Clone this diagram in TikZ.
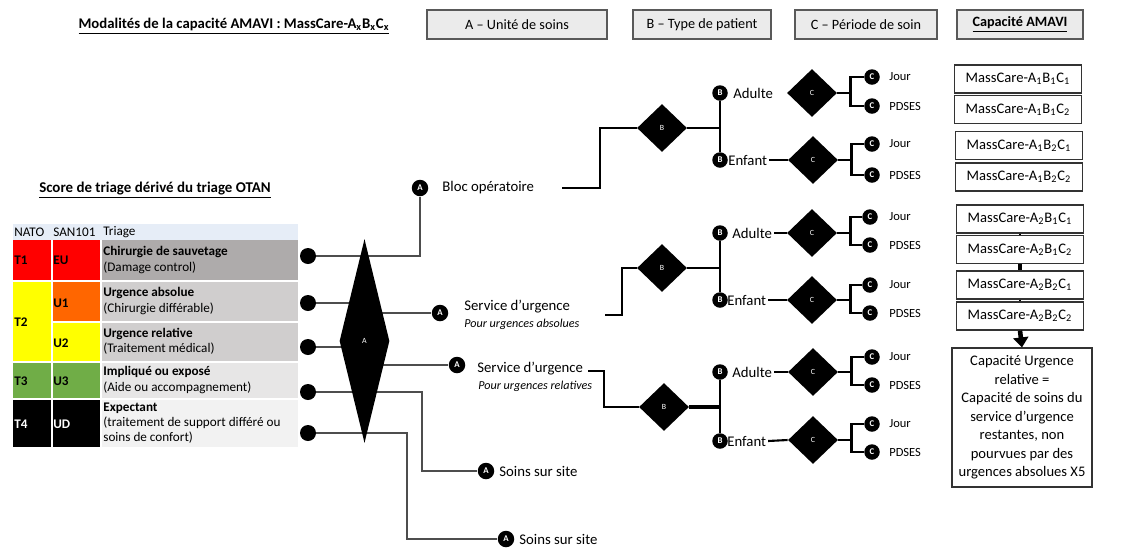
\documentclass[tikz,border=0pt]{standalone}
\usepackage{fontspec}
\setmainfont{Carlito}
\usetikzlibrary{shapes.geometric,arrows.meta,shadows}
\pgfdeclarelayer{paper}
\pgfdeclarelayer{wires}
\pgfsetlayers{paper,wires,main}
\definecolor{hdrfill}{HTML}{EBEBEB}
\definecolor{hdrline}{HTML}{595959}
\definecolor{wirec}{HTML}{4D4D4D}
\definecolor{tRed}{HTML}{FF0000}
\definecolor{tYellow}{HTML}{FFFF00}
\definecolor{tOrange}{HTML}{FF6600}
\definecolor{tGreen}{HTML}{70AD47}
\definecolor{gDark}{HTML}{AEABAB}
\definecolor{gMid}{HTML}{D0CECE}
\definecolor{gLight}{HTML}{E7E6E6}
\definecolor{gPale}{HTML}{F2F2F2}
\definecolor{colHead}{HTML}{E6EDF7}
\begin{document}
\begin{tikzpicture}[x=0.02cm,y=-0.02cm,
  hdr/.style={draw=hdrline, fill=hdrfill, line width=0.6pt, inner sep=0pt,
    minimum height=0.58cm, font=\fontsize{8.1}{9.6}\selectfont,
    drop shadow={shadow xshift=0.7pt, shadow yshift=-0.7pt, fill=black!55, opacity=1}},
  txt/.style={inner sep=0pt, anchor=west, font=\fontsize{8.4}{10}\selectfont},
  itx/.style={inner sep=0pt, anchor=west, font=\fontsize{6.9}{8}\selectfont\itshape},
  sml/.style={inner sep=0pt, anchor=west, font=\fontsize{7.1}{8.5}\selectfont},
  cell/.style={inner sep=0pt, anchor=west, align=left, font=\fontsize{7.5}{8.6}\selectfont},
  cellb/.style={cell, font=\fontsize{7.5}{8.6}\selectfont\bfseries},
  dot/.style={circle, fill=black, inner sep=0pt, minimum size=0.32cm},
  lett/.style={circle, fill=black, text=white, inner sep=0pt, minimum size=0.33cm,
    font=\fontsize{5}{5}\selectfont\bfseries},
  sletter/.style={lett, minimum size=0.31cm},
  bdia/.style={diamond, fill=black, text=white, inner sep=0pt, minimum width=1cm,
    minimum height=0.96cm, font=\fontsize{4.5}{5}\selectfont},
  mc/.style={draw=black!80, line width=0.7pt, inner sep=0pt, minimum width=2.54cm,
    minimum height=0.56cm, font=\fontsize{8.3}{10}\selectfont},
  wire/.style={draw=wirec, line width=0.8pt},
  tk/.style={draw=black, line width=1.5pt},
  tkk/.style={draw=black, line width=2.6pt},
  thn/.style={draw=black, line width=0.8pt},
]
\begin{pgfonlayer}{paper}
\fill[white] (0,0) rectangle (1127,549);
\end{pgfonlayer}
\useasboundingbox (0,0) rectangle (1127,549);

% ---------- headings ----------
\node[inner sep=0pt, font=\fontsize{8.4}{10}\selectfont\bfseries] (title) at (234,26)
  {$\underline{\hbox{Modalités de la capacité AMAVI : MassCare-A\textsubscript{x}B\textsubscript{x}C\textsubscript{x}}}$};
\node[hdr, minimum width=3.6cm]  (hA) at (517,24.5) {A -- Unité de soins};
\node[hdr, minimum width=2.76cm] (hB) at (702,24.5) {B -- Type de patient};
\node[hdr, minimum width=2.84cm] (hC) at (866,24.5) {C -- Période de soin};
\node[hdr, minimum width=2.52cm] (hD) at (1020,24.5) {\textbf{\underline{Capacité AMAVI}}};

% ---------- triage table ----------
\node[inner sep=0pt, font=\fontsize{8.5}{10}\selectfont\bfseries] (score) at (155,190)
  {$\underline{\hbox{Score de triage dérivé du triage OTAN}}$};
\fill[colHead] (13,224) rectangle (298,240);
\fill[tRed] (13,240) rectangle (101,281);
\fill[gDark] (101,240) rectangle (298,281);
\fill[tYellow] (13,281) rectangle (52,362);
\fill[tOrange] (52,281) rectangle (101,322);
\fill[tYellow] (52,322) rectangle (101,362);
\fill[gMid] (101,281) rectangle (298,362);
\fill[tGreen] (13,362) rectangle (101,399);
\fill[gLight] (101,362) rectangle (298,399);
\fill[black] (13,399) rectangle (101,447);
\fill[gPale] (101,399) rectangle (298,447);
\draw[white, line width=0.8pt] (52,240) -- (52,447) (101,240) -- (101,447)
  (13,281) -- (298,281) (52,322) -- (298,322) (13,362) -- (298,362) (13,399) -- (298,399);

\node[cell] (hNato) at (14,232) {NATO};
\node[cell] (hSan) at (53,232) {SAN101};
\node[cell] (hTri) at (103,232) {Triage};
\node[cellb] (t1) at (14,260) {T1};
\node[cellb] (eu) at (53,260) {EU};
\node[cell] (r1) at (103,260) {\textbf{Chirurgie de sauvetage}\\(Damage control)};
\node[cellb] (t2) at (14,322) {T2};
\node[cellb] (u1) at (53,303) {U1};
\node[cell] (r2) at (103,301) {\textbf{Urgence absolue}\\(Chirurgie différable)};
\node[cellb] (u2) at (53,343) {U2};
\node[cell] (r3) at (103,341) {\textbf{Urgence relative}\\(Traitement médical)};
\node[cellb] (t3) at (14,381) {T3};
\node[cellb] (u3) at (53,381) {U3};
\node[cell] (r4) at (103,380) {\textbf{Impliqué ou exposé}\\(Aide ou accompagnement)};
\node[cellb, text=white] (t4) at (14,424) {T4};
\node[cellb, text=white] (ud) at (53,424) {UD};
\node[cell] (r5) at (103,423) {\textbf{Expectant}\\(traitement de support différé ou\\soins de confort)};

% ---------- unit split ----------
\node[dot] (d1) at (308,256) {};
\node[dot] (d2) at (308,303) {};
\node[dot] (d3) at (308,347) {};
\node[dot] (d4) at (308,392) {};
\node[dot] (d5) at (308,433) {};
\node[diamond, fill=black, text=white, inner sep=0pt, minimum width=1cm,
  minimum height=4.08cm, font=\fontsize{4.5}{5}\selectfont] (bigA) at (364.5,341) {A};

\node[lett] (a1) at (420,188) {A};
\node[lett] (a2) at (440,313) {A};
\node[lett] (a3) at (457,365) {A};
\node[lett] (a4) at (486,471) {A};
\node[lett] (a5) at (506,539) {A};
\node[txt] (lBloc) at (442,188) {Bloc opératoire};
\node[txt] (lSu1) at (464,307) {Service d’urgence};
\node[itx] (lSu1i) at (464,324) {Pour urgences absolues};
\node[txt] (lSu2) at (477,369) {Service d’urgence};
\node[itx] (lSu2i) at (478,386) {Pour urgences relatives};
\node[txt] (lSs1) at (499,471) {Soins sur site};
\node[txt] (lSs2) at (519,539) {Soins sur site};

\begin{pgfonlayer}{wires}
\draw[wire] (d1) -| (a1);
\draw[wire] (d2) -- (d2 -| bigA);
\draw[wire] (bigA.center |- a2) -- (a2);
\draw[wire] (d3) -- (d3 -| bigA);
\draw[wire] (bigA.center |- a3) -- (a3);
\draw[wire] (d4) -- ++(114,0) |- (a4);
\draw[wire] (d5) -- ++(99,0) |- (a5);
\end{pgfonlayer}

% ---------- patient / period trees ----------
\coordinate (s1) at (562,188);
\coordinate (s2) at (605,315);
\coordinate (s3) at (588,371);
\node[bdia] (b1) at (662,128) {B};
\node[bdia] (b2) at (662,268) {B};
\node[bdia] (b3) at (664,407) {B};
\node[sletter] (bA1) at (720,93) {B};
\node[sletter] (bE1) at (720,160) {B};
\node[sletter] (bA2) at (720,233) {B};
\node[sletter] (bE2) at (720,300) {B};
\node[sletter] (bA3) at (720,372) {B};
\node[sletter] (bE3) at (720,441) {B};
\node[txt] (lA1) at (733,93) {Adulte};
\node[txt] (lE1) at (728,160) {Enfant};
\node[txt] (lA2) at (732,233) {Adulte};
\node[txt] (lE2) at (727,300) {Enfant};
\node[txt] (lA3) at (732,372) {Adulte};
\node[txt] (lE3) at (727,441) {Enfant};
\node[bdia] (cA1) at (812,93) {C};
\node[bdia] (cE1) at (813,160) {C};
\node[bdia] (cA2) at (812,233) {C};
\node[bdia] (cE2) at (812,300) {C};
\node[bdia] (cA3) at (813,372) {C};
\node[bdia] (cE3) at (813,440) {C};

\foreach \n/\x/\y/\t in {k1a/872/77/Jour, k1b/872/106/PDSES, k1c/872/144/Jour, k1d/872/175/PDSES,
  k2a/870/217/Jour, k2b/870/245/PDSES, k2c/870/285/Jour, k2d/870/313/PDSES,
  k3a/872/357/Jour, k3b/872/385/PDSES, k3c/872/424/Jour, k3d/872/452/PDSES}{
  \node[sletter] (\n) at (\x,\y) {C};
  \node[sml] (l\n) at (889,\y) {\t};
}

\begin{pgfonlayer}{wires}
\draw[thn] (s1) -- ++(38,0) |- (b1.west);
\draw[tk] (s2) -- ++(17,0) |- (b2.west);
\draw[tk] (s3) -- ++(16,0) |- (b3.west);
\draw[tk] (b1.east) -- (b1.east -| bA1);
\draw[tk] (b2.east) -- (b2.east -| bA2);
\draw[tkk] (b3.east) -- (b3.east -| bA3);
\draw[tk] (bA1) -- (bE1);
\draw[tk] (bA2) -- (bE2);
\draw[tk] (bA3) -- (bE3);
\draw[thn, line width=1.2pt] ([xshift=1pt]lE1.east) -- (cE1.west);
\draw[thn, line width=1.2pt] ([xshift=1pt]lA2.east) -- (cA2.west);
\draw[thn, line width=1.2pt] ([xshift=1pt]lE2.east) -- (cE2.west);
\draw[thn, line width=1.2pt] ([xshift=1pt]lA3.east) -- (cA3.west);
\draw[thn, line width=1.2pt] ([xshift=1pt]lE3.east) -- (cE3.west);
\foreach \c/\p/\q in {cA1/k1a/k1b, cE1/k1c/k1d, cA2/k2a/k2b, cE2/k2c/k2d, cA3/k3a/k3b, cE3/k3c/k3d}{
  \draw[tk] (\c.east) -- ++(13,0) coordinate (j\c);
  \draw[tk] (\p) -| (j\c) |- (\q);
}
\end{pgfonlayer}

% ---------- capacities ----------
\node[mc] (m1) at (1018,79) {MassCare-A\textsubscript{1}B\textsubscript{1}C\textsubscript{1}};
\node[mc] (m2) at (1018,109.5) {MassCare-A\textsubscript{1}B\textsubscript{1}C\textsubscript{2}};
\node[mc] (m3) at (1019,145.5) {MassCare-A\textsubscript{1}B\textsubscript{2}C\textsubscript{1}};
\node[mc] (m4) at (1019,177) {MassCare-A\textsubscript{1}B\textsubscript{2}C\textsubscript{2}};
\node[mc] (m5) at (1020,219) {MassCare-A\textsubscript{2}B\textsubscript{1}C\textsubscript{1}};
\node[mc] (m6) at (1020,249.5) {MassCare-A\textsubscript{2}B\textsubscript{1}C\textsubscript{2}};
\node[mc] (m7) at (1020,285) {MassCare-A\textsubscript{2}B\textsubscript{2}C\textsubscript{1}};
\node[mc] (m8) at (1020,316) {MassCare-A\textsubscript{2}B\textsubscript{2}C\textsubscript{2}};
\node[draw=black!80, line width=0.7pt, inner sep=0pt, minimum width=2.8cm, minimum height=2.78cm,
  align=center, font=\fontsize{8.3}{10.5}\selectfont] (cap) at (1022,417.5)
  {Capacité Urgence\\relative =\\Capacité de soins du\\service d’urgence\\restantes, non\\pourvues par des\\urgences absolues X5};

\draw[tk] (m5.south) -- (m6.north);
\draw[tkk] (m6.south) -- (m7.north);
\draw[tk] (m7.south) -- (m8.north);
\draw[tkk, -{Triangle[length=0.2cm, width=0.3cm]}] (m8.south) -- (cap.north);
\end{tikzpicture}
\end{document}
